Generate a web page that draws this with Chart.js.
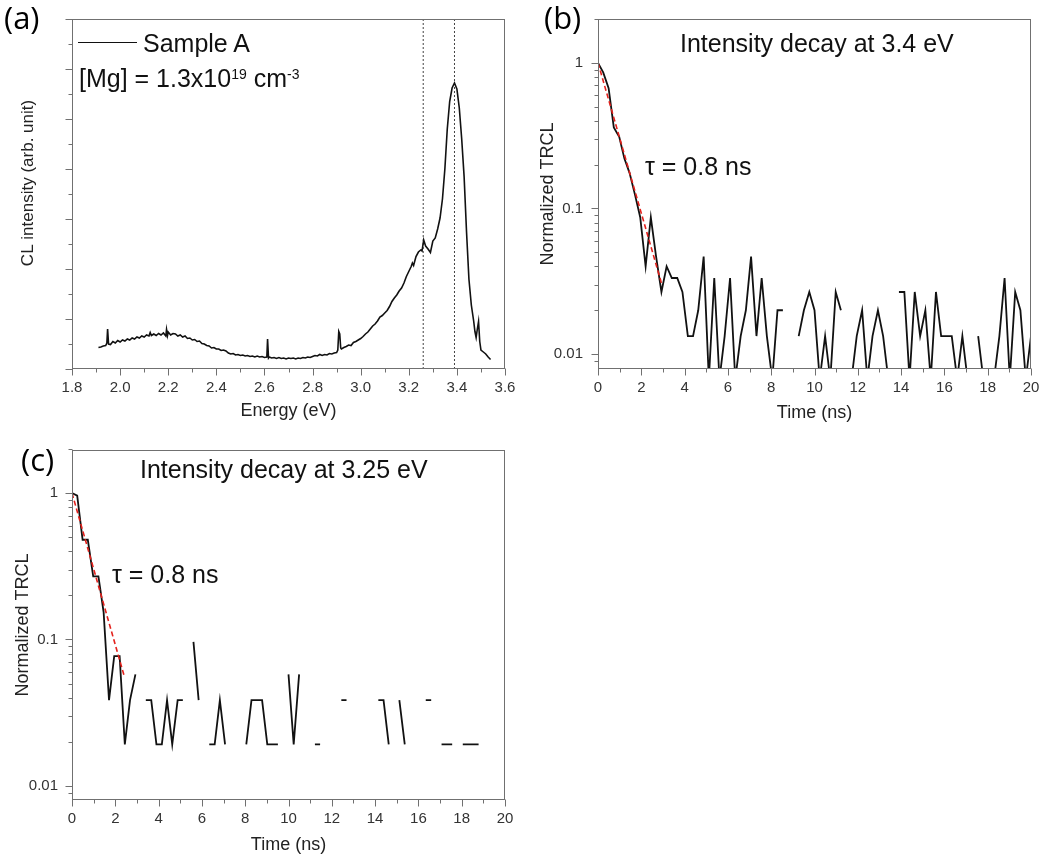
<!DOCTYPE html>
<html>
<head>
<meta charset="utf-8">
<script src="https://cdn.jsdelivr.net/npm/chart.js@4.4.0/dist/chart.umd.min.js"></script>
<style>
  html, body { margin: 0; padding: 0; background: #fff; }
  body { width: 1040px; height: 857px; position: relative; overflow: hidden; font-family: "Liberation Sans", Arial, sans-serif; }
  canvas { position: absolute; }
  .lbl { position: absolute; white-space: nowrap; line-height: 1; font-size: 25px; color: #111; }
  .sup { font-size: 14px; position: relative; top: -8px; }
  .panel { position: absolute; line-height: 1; font-size: 31px; font-family: "Open Sans", "Noto Sans", sans-serif; color: #000; }
  .legline { position: absolute; height: 0; border-top: 1.5px solid #111; }
</style>
</head>
<body>
<canvas id="chartA" width="520" height="430" style="left:0px; top:0px"></canvas>
<canvas id="chartB" width="520" height="430" style="left:520px; top:0px"></canvas>
<canvas id="chartC" width="520" height="427" style="left:0px; top:430px"></canvas>

<div class="panel" style="left:4px; top:2px">(a)</div>
<div class="panel" style="left:544px; top:2px">(b)</div>
<div class="panel" style="left:21px; top:444px">(c)</div>

<div class="legline" style="left:78px; top:42px; width:59px"></div>
<div class="lbl" style="left:143px; top:31px">Sample A</div>
<div class="lbl" style="left:79px; top:66px">[Mg] = 1.3x10<span class="sup">19</span> cm<span class="sup">-3</span></div>
<div class="lbl" style="left:680px; top:31px">Intensity decay at 3.4 eV</div>
<div class="lbl" style="left:645px; top:154px">τ = 0.8 ns</div>
<div class="lbl" style="left:140px; top:457px">Intensity decay at 3.25 eV</div>
<div class="lbl" style="left:112px; top:562px">τ = 0.8 ns</div>

<script>
// (a) CL spectrum of sample A
const energyA = [
  1.91, 1.92, 1.93, 1.94, 1.945, 1.948, 1.952, 1.96, 1.97, 1.98,
  1.99, 2.00, 2.01, 2.02, 2.03, 2.04, 2.05, 2.06, 2.07, 2.08,
  2.09, 2.10, 2.11, 2.12, 2.125, 2.13, 2.14, 2.15, 2.16, 2.17,
  2.18, 2.19, 2.193, 2.197, 2.20, 2.21, 2.22, 2.23, 2.24, 2.25,
  2.26, 2.27, 2.28, 2.29, 2.30, 2.31, 2.32, 2.33, 2.34, 2.35,
  2.36, 2.37, 2.38, 2.39, 2.40, 2.41, 2.42, 2.43, 2.44, 2.45,
  2.46, 2.47, 2.48, 2.49, 2.50, 2.51, 2.52, 2.53, 2.54, 2.55,
  2.56, 2.57, 2.58, 2.59, 2.60, 2.61, 2.613, 2.617, 2.62, 2.63,
  2.64, 2.65, 2.66, 2.67, 2.68, 2.69, 2.70, 2.71, 2.72, 2.73,
  2.74, 2.75, 2.76, 2.77, 2.78, 2.79, 2.80, 2.81, 2.82, 2.83,
  2.84, 2.85, 2.86, 2.87, 2.88, 2.89, 2.90, 2.905, 2.909, 2.913,
  2.917, 2.92, 2.93, 2.94, 2.95, 2.96, 2.97, 2.98, 2.99, 3.00,
  3.01, 3.02, 3.03, 3.04, 3.05, 3.06, 3.07, 3.08, 3.09, 3.10,
  3.11, 3.12, 3.13, 3.14, 3.15, 3.16, 3.17, 3.18, 3.19, 3.20,
  3.21, 3.215, 3.22, 3.23, 3.24, 3.25, 3.255, 3.262, 3.27, 3.28,
  3.29, 3.30, 3.31, 3.32, 3.33, 3.34, 3.35, 3.36, 3.37, 3.38,
  3.39, 3.40, 3.41, 3.42, 3.43, 3.44, 3.45, 3.46, 3.47, 3.475,
  3.48, 3.485, 3.49, 3.495, 3.50, 3.51, 3.52, 3.53, 3.54
];
const intensityA = [
  0.43, 0.44, 0.46, 0.47, 0.52, 0.80, 0.50, 0.49, 0.55, 0.52,
  0.57, 0.54, 0.58, 0.56, 0.60, 0.58, 0.62, 0.60, 0.64, 0.62,
  0.66, 0.64, 0.68, 0.66, 0.73, 0.67, 0.70, 0.67, 0.71, 0.68,
  0.72, 0.66, 0.79, 0.67, 0.74, 0.68, 0.71, 0.70, 0.66, 0.68,
  0.64, 0.66, 0.61, 0.62, 0.58, 0.59, 0.55, 0.56, 0.51, 0.50,
  0.47, 0.46, 0.42, 0.43, 0.40, 0.40, 0.37, 0.38, 0.36, 0.32,
  0.30, 0.31, 0.28, 0.29, 0.27, 0.28, 0.26, 0.27, 0.25, 0.26,
  0.24, 0.26, 0.24, 0.25, 0.23, 0.24, 0.60, 0.22, 0.24, 0.22,
  0.23, 0.21, 0.23, 0.21, 0.22, 0.20, 0.22, 0.21, 0.22, 0.20,
  0.22, 0.21, 0.23, 0.22, 0.24, 0.23, 0.25, 0.27, 0.26, 0.29,
  0.27, 0.29, 0.28, 0.31, 0.30, 0.32, 0.33, 0.38, 0.75, 0.70,
  0.42, 0.40, 0.43, 0.45, 0.48, 0.47, 0.53, 0.55, 0.58, 0.61,
  0.65, 0.70, 0.74, 0.80, 0.86, 0.90, 0.96, 1.04, 1.07, 1.12,
  1.17, 1.25, 1.35, 1.42, 1.48, 1.56, 1.62, 1.72, 1.85, 1.95,
  2.05, 2.12, 2.07, 2.25, 2.34, 2.38, 2.36, 2.58, 2.46, 2.40,
  2.33, 2.56, 2.62, 2.80, 3.02, 3.40, 4.00, 4.80, 5.35, 5.62,
  5.72, 5.60, 5.22, 4.60, 3.85, 2.75, 1.80, 1.28, 0.95, 0.75,
  0.63, 0.80, 0.95, 0.55, 0.38, 0.34, 0.30, 0.24, 0.19
];
const markerLinesA = [3.26, 3.39];
const xTicksA = [1.8, 2.0, 2.2, 2.4, 2.6, 2.8, 3.0, 3.2, 3.4, 3.6];
const xMinorA = [1.9, 2.1, 2.3, 2.5, 2.7, 2.9, 3.1, 3.3, 3.5];
const yTicksA = [0, 1, 2, 3, 4, 5, 6, 7];
const yMinorA = [0.5, 1.5, 2.5, 3.5, 4.5, 5.5, 6.5];

// (b), (c) normalized TRCL decays, null = no counts
const timeNs = [
  0, 0.24, 0.49, 0.73, 0.98, 1.22, 1.46, 1.71, 1.95, 2.2,
  2.44, 2.68, 2.93, 3.17, 3.41, 3.66, 3.9, 4.15, 4.39, 4.63,
  4.88, 5.12, 5.37, 5.61, 5.85, 6.1, 6.34, 6.59, 6.83, 7.07,
  7.32, 7.56, 7.8, 8.05, 8.29, 8.54, 8.78, 9.02, 9.27, 9.51,
  9.76, 10, 10.24, 10.49, 10.73, 10.98, 11.22, 11.46, 11.71, 11.95,
  12.2, 12.44, 12.68, 12.93, 13.17, 13.41, 13.66, 13.9, 14.15, 14.39,
  14.63, 14.88, 15.12, 15.37, 15.61, 15.85, 16.1, 16.34, 16.59, 16.83,
  17.07, 17.32, 17.56, 17.8, 18.05, 18.29, 18.54, 18.78, 19.02, 19.27,
  19.51, 19.76, 20
];
const trclB = [
  1.0, 0.86, 0.67, 0.36, 0.31, 0.22, 0.175, 0.124, 0.087, 0.04,
  0.087, 0.047, 0.0267, 0.04, 0.0333, 0.0333, 0.0267, 0.0133, 0.0133, 0.02,
  0.0467, 0.0067, 0.0333, 0.0067, 0.0133, 0.0333, 0.0067, 0.0133, 0.02, 0.0467,
  0.0133, 0.0333, 0.0133, 0.0067, 0.02, 0.02, null, null, 0.0133, 0.02,
  0.0267, 0.02, 0.0067, 0.0133, 0.0067, 0.0267, 0.02, null, 0.0067, 0.0133,
  0.02, 0.0067, 0.0133, 0.02, 0.0133, 0.0067, null, 0.0267, 0.0267, 0.0067,
  0.0267, 0.0133, 0.02, 0.0067, 0.0267, 0.0133, 0.0133, 0.0133, 0.0067, 0.0133,
  0.0067, null, 0.0133, 0.0067, 0.0067, 0.0067, 0.0133, 0.0333, 0.0067, 0.0267,
  0.02, 0.0067, 0.0133
];
const trclC = [
  1.0, 0.96, 0.48, 0.48, 0.27, 0.27, 0.154, 0.0385, 0.0769, 0.0769,
  0.0192, 0.0385, 0.0577, null, 0.0385, 0.0385, 0.0192, 0.0192, 0.0385, 0.0192,
  0.0385, 0.0385, null, 0.0962, 0.0385, null, 0.0192, 0.0192, 0.0385, 0.0192,
  null, null, null, 0.0192, 0.0385, 0.0385, 0.0385, 0.0192, 0.0192, 0.0192,
  null, 0.0577, 0.0192, 0.0577, null, null, 0.0192, 0.0192, null, null,
  null, 0.0385, 0.0385, null, null, null, null, null, 0.0385, 0.0385,
  0.0192, null, 0.0385, 0.0192, null, null, null, 0.0385, 0.0385, null,
  0.0192, 0.0192, 0.0192, null, 0.0192, 0.0192, 0.0192, 0.0192, null, null,
  null, null, null
];
// exponential fits (tau = 0.8 ns), end points
const fitTimeB = [0, 2.95];
const fitValB = [1.0, 0.03];
const fitTimeC = [0, 2.4];
const fitValC = [1.0, 0.057];

const timeTicks = [0, 2, 4, 6, 8, 10, 12, 14, 16, 18, 20];
const timeMinor = [1, 3, 5, 7, 9, 11, 13, 15, 17, 19];
const logTicks = [0.01, 0.1, 1];
const logMinor = [0.009, 0.02, 0.03, 0.04, 0.05, 0.06, 0.07, 0.08, 0.09,
  0.2, 0.3, 0.4, 0.5, 0.6, 0.7, 0.8, 0.9, 2];

// --- shared styling ---
const axisGray = '#707070';
const fontFam = '"Liberation Sans", Arial, sans-serif';
const tickFont = { family: fontFam, size: 15 };
const titleFont = { family: fontFam, size: 18 };

// box frame + outward tick marks, Origin style
const frameTicks = {
  id: 'frameTicks',
  afterDraw(chart, args, o) {
    const { ctx, chartArea: a } = chart;
    const xs = chart.scales.x, ys = chart.scales.y;
    const L = Math.round(a.left) + 0.5, R = Math.round(a.right) - 0.5;
    const T = Math.round(a.top) + 0.5, B = Math.round(a.bottom) - 0.5;
    ctx.save();
    ctx.strokeStyle = axisGray;
    ctx.lineWidth = 1;
    ctx.strokeRect(L, T, R - L, B - T);
    ctx.beginPath();
    const xt = (vals, len) => vals.forEach(v => {
      const p = Math.round(xs.getPixelForValue(v)) + 0.5;
      ctx.moveTo(p, B); ctx.lineTo(p, B + len);
    });
    const yt = (vals, len) => vals.forEach(v => {
      const p = Math.round(ys.getPixelForValue(v)) + 0.5;
      ctx.moveTo(L, p); ctx.lineTo(L - len, p);
    });
    xt(o.xMajor, 7); xt(o.xMinor, 4);
    yt(o.yMajor, 7); yt(o.yMinor, 4);
    ctx.stroke();
    if (o.yTitle) {
      ctx.fillStyle = '#222';
      ctx.font = '17px ' + fontFam;
      ctx.textAlign = 'center';
      ctx.textBaseline = 'middle';
      ctx.translate(o.yTitle.x, o.yTitle.y);
      ctx.rotate(-Math.PI / 2);
      ctx.fillText(o.yTitle.text, 0, 0);
    }
    ctx.restore();
  }
};

function xy(xs, ys) {
  return xs.map((x, i) => ({ x: x, y: ys[i] }));
}

// fixed box size, no extra room for overflowing tick labels
function fixBox(s, w, h) {
  if (w !== null) s.width = w;
  if (h !== null) s.height = h;
  s.paddingLeft = 0; s.paddingRight = 0;
  s.paddingTop = 0; s.paddingBottom = 0;
}

function commonOptions(pad) {
  return {
    responsive: false,
    animation: false,
    events: [],
    layout: { padding: pad },
    plugins: { legend: { display: false }, tooltip: { enabled: false } }
  };
}

// --- (a) ---
const optA = commonOptions({ top: 19, right: 15, left: 0, bottom: 0 });
optA.plugins.frameTicks = {
  xMajor: xTicksA, xMinor: xMinorA, yMajor: yTicksA, yMinor: yMinorA,
  yTitle: { text: 'CL intensity (arb. unit)', x: 28, y: 183 }
};
optA.scales = {
  x: {
    type: 'linear', min: 1.8, max: 3.6,
    afterBuildTicks: s => { s.ticks = xTicksA.map(v => ({ value: v })); },
    afterFit: s => fixBox(s, null, 61),
    grid: { display: false, drawTicks: false },
    border: { display: false },
    ticks: { font: tickFont, color: '#333', padding: 10, maxRotation: 0, autoSkip: false,
      callback: v => v.toFixed(1) },
    title: { display: true, text: 'Energy (eV)', font: titleFont, color: '#222', padding: { top: 0, bottom: 8 } }
  },
  y: {
    type: 'linear', min: 0, max: 7,
    afterFit: s => fixBox(s, 72, null),
    grid: { display: false, drawTicks: false },
    border: { display: false },
    ticks: { display: false }
  }
};
new Chart(document.getElementById('chartA'), {
  type: 'line',
  data: {
    datasets: [
      { data: xy(energyA, intensityA), borderColor: '#111', borderWidth: 1.6, pointRadius: 0, order: 0 }
    ].concat(markerLinesA.map(e => ({
      data: [{ x: e, y: 0 }, { x: e, y: 7 }],
      borderColor: '#444', borderWidth: 1, borderDash: [2, 2], pointRadius: 0, order: 1
    })))
  },
  options: optA,
  plugins: [frameTicks]
});

// --- (b) and (c) ---
function decayChart(id, values, fitT, fitV, o) {
  const opt = commonOptions(o.pad);
  opt.plugins.frameTicks = { xMajor: timeTicks, xMinor: timeMinor, yMajor: logTicks, yMinor: logMinor };
  opt.scales = {
    x: {
      type: 'linear', min: 0, max: 20,
      afterBuildTicks: s => { s.ticks = timeTicks.map(v => ({ value: v })); },
      afterFit: s => fixBox(s, null, o.xHeight),
      grid: { display: false, drawTicks: false },
      border: { display: false },
      ticks: { font: tickFont, color: '#333', padding: 10, maxRotation: 0, autoSkip: false,
        callback: v => String(v) },
      title: { display: true, text: 'Time (ns)', font: titleFont, color: '#222', padding: { top: 0, bottom: o.xTitlePad } }
    },
    y: {
      type: 'logarithmic', min: o.yMin, max: o.yMax,
      afterBuildTicks: s => { s.ticks = logTicks.map(v => ({ value: v })); },
      afterFit: s => fixBox(s, o.yWidth, null),
      grid: { display: false, drawTicks: false },
      border: { display: false },
      ticks: { font: tickFont, color: '#333', padding: o.yTickPad, autoSkip: false,
        callback: v => String(v) },
      title: { display: true, text: 'Normalized TRCL', font: titleFont, color: '#222', padding: { top: o.yTitlePad, bottom: 0 } }
    }
  };
  new Chart(document.getElementById(id), {
    type: 'line',
    data: {
      datasets: [
        { data: xy(fitT, fitV), borderColor: '#e3211c', borderWidth: 1.6, borderDash: [5, 3],
          pointRadius: 0, order: 0, clip: 0 },
        { data: xy(timeNs, values), borderColor: '#111', borderWidth: 1.8, pointRadius: 0,
          spanGaps: false, order: 1, clip: 0 }
      ]
    },
    options: opt,
    plugins: [frameTicks]
  });
}

decayChart('chartB', trclB, fitTimeB, fitValB, {
  pad: { top: 19, right: 9, left: 0, bottom: 0 },
  xHeight: 61, xTitlePad: 6, yWidth: 78, yTickPad: 15, yTitlePad: 17,
  yMin: 0.0079, yMax: 2.0
});
decayChart('chartC', trclC, fitTimeC, fitValC, {
  pad: { top: 20, right: 15, left: 0, bottom: 0 },
  xHeight: 57, xTitlePad: 1, yWidth: 72, yTickPad: 14, yTitlePad: 12,
  yMin: 0.008, yMax: 1.97
});
</script>
</body>
</html>
